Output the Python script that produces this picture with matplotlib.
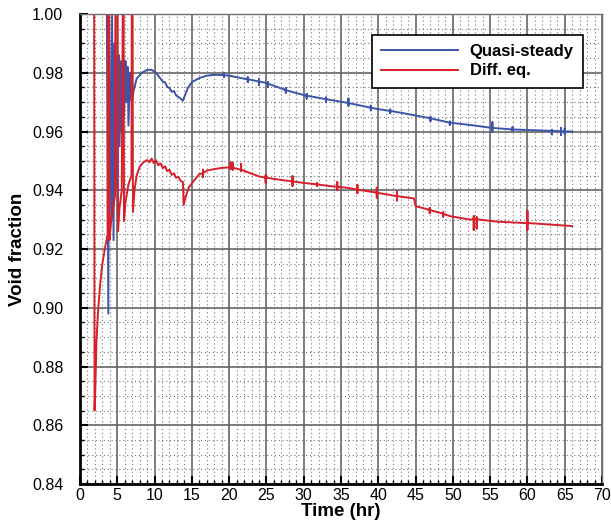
import matplotlib
matplotlib.use("Agg")
import matplotlib.pyplot as plt
from matplotlib.ticker import MultipleLocator

plt.rcParams['font.family'] = ['Liberation Sans', 'DejaVu Sans']

# Quasi-steady (blue) base curve
blue_t = [0, 3.6, 3.8, 3.9, 4.2, 4.3, 4.5, 4.6, 4.8, 4.9,
          5.0, 5.2, 5.3, 5.5, 5.6, 5.8, 5.9, 6.1, 6.2, 6.4,
          6.5, 6.7, 6.8, 6.95, 7.2, 7.6, 8.3, 9.0, 9.6, 10.2,
          10.8, 11.1, 11.4, 11.7, 12.0, 12.3, 12.6, 12.9, 13.2, 13.5,
          13.8, 14.1, 14.5, 15.0, 16.0, 17.0, 18.0, 19.0, 20.0, 22,
          25, 28, 30, 33, 36, 40, 43, 46, 50, 53,
          55.4, 58, 62, 66]
blue_v = [1.0, 1.0, 0.898, 1.0, 0.93, 1.0, 0.923, 0.99, 0.94, 0.985,
          0.945, 0.986, 0.955, 0.984, 0.96, 0.986, 0.965, 0.984, 0.97, 0.982,
          0.962, 0.98, 0.972, 0.970, 0.974, 0.978, 0.980, 0.981, 0.981, 0.980,
          0.978, 0.977, 0.9768, 0.9752, 0.9748, 0.9735, 0.9738, 0.9722, 0.9718, 0.9712,
          0.9705, 0.9725, 0.975, 0.9768, 0.9782, 0.979, 0.9793, 0.9792, 0.979, 0.978,
          0.9765, 0.9738, 0.9724, 0.971, 0.9697, 0.9676, 0.9664, 0.965, 0.9629, 0.962,
          0.9612, 0.9607, 0.9603, 0.960]
# small glitches on the blue curve: time, level, top, bottom
blue_spk_t = [19.3, 22.5, 24.0, 25.2, 27.6, 30.4, 33.0, 36.0, 39.0, 41.6,
              47.0, 49.6, 55.3, 58.0, 63.3, 64.5, 65.0]
blue_spk_base = [0.9792, 0.9778, 0.9770, 0.9763, 0.9741, 0.9722, 0.9710, 0.9697, 0.9681, 0.9670,
                 0.9645, 0.9630, 0.9612, 0.9607, 0.9602, 0.9601, 0.9600]
blue_spk_hi = [0.9800, 0.9785, 0.9778, 0.9768, 0.9748, 0.9728, 0.9716, 0.9712, 0.9688, 0.9675,
               0.9650, 0.9634, 0.9632, 0.9615, 0.9606, 0.9612, 0.9610]
blue_spk_lo = [0.9785, 0.9768, 0.9758, 0.9752, 0.9732, 0.9712, 0.9700, 0.9688, 0.9672, 0.9662,
               0.9636, 0.9622, 0.9598, 0.9602, 0.9590, 0.9588, 0.9592]

# Diff. eq. (red) base curve
red_t = [0, 1.9, 1.95, 2.05, 2.2, 2.4, 2.7, 3.0, 3.4, 3.7,
         3.75, 3.9, 3.95, 4.2, 4.5, 4.7, 4.75, 5.05, 5.1, 5.3,
         5.6, 5.75, 5.85, 5.9, 6.1, 6.5, 6.9, 6.95, 7.05, 7.1,
         7.3, 7.6, 8.0, 8.5, 9.0, 9.3, 9.6, 9.9, 10.2, 10.5,
         10.8, 11.1, 11.4, 11.7, 12.0, 12.3, 12.6, 12.9, 13.2, 13.5,
         13.8, 13.9, 14.2, 14.6, 15.2, 16.0, 17.0, 18.0, 19.0, 20.0,
         21.5, 24, 27, 30, 33.5, 36, 40.2, 44.3, 44.8, 45.0,
         46.9, 49.6, 52.3, 56, 60.3, 66]
red_v = [1.0, 1.0, 0.865, 0.872, 0.888, 0.898, 0.908, 0.915, 0.921, 0.925,
         1.01, 1.01, 0.923, 0.93, 0.935, 0.938, 1.01, 1.01, 0.926, 0.934,
         0.94, 1.01, 1.01, 0.9295, 0.936, 0.942, 0.945, 1.01, 1.01, 0.9326,
         0.94, 0.945, 0.948, 0.9495, 0.9503, 0.9495, 0.9508, 0.9492, 0.9502, 0.9485,
         0.9492, 0.9475, 0.9482, 0.9465, 0.9470, 0.9452, 0.9458, 0.9442, 0.9446, 0.9432,
         0.9428, 0.935, 0.938, 0.941, 0.943, 0.9455, 0.9467, 0.9472, 0.9476, 0.9478,
         0.947, 0.9447, 0.9435, 0.9425, 0.9414, 0.9408, 0.939, 0.9374, 0.9372, 0.9346,
         0.9333, 0.9312, 0.930, 0.9293, 0.9288, 0.9278]
red_spk_t = [16.5, 20.2, 20.5, 21.6, 24.9, 28.5, 31.8, 34.5, 37.2, 39.8,
             42.5, 46.9, 48.7, 52.8, 53.2, 60.0]
red_spk_base = [0.9458, 0.9478, 0.9477, 0.9470, 0.9443, 0.9430, 0.9420, 0.9412, 0.9402, 0.9392,
                0.9380, 0.9333, 0.9320, 0.9302, 0.9301, 0.9288]
red_spk_hi = [0.9470, 0.9495, 0.9492, 0.9490, 0.9452, 0.9448, 0.9424, 0.9428, 0.9418, 0.9408,
              0.9395, 0.9340, 0.9325, 0.9312, 0.9308, 0.9330]
red_spk_lo = [0.9445, 0.9472, 0.9470, 0.9466, 0.9425, 0.9415, 0.9414, 0.9400, 0.9390, 0.9375,
              0.9365, 0.9322, 0.9310, 0.9265, 0.9270, 0.9265]


def merge(t, v, st, sb, shi, slo):
    pts = [(a, 0, b) for a, b in zip(t, v)]
    for a, b, h, l in zip(st, sb, shi, slo):
        pts += [(a, 1, b), (a, 2, h), (a, 3, l), (a, 4, b)]
    pts.sort(key=lambda p: (p[0], p[1]))
    return [p[0] for p in pts], [p[2] for p in pts]


bx, by = merge(blue_t, blue_v, blue_spk_t, blue_spk_base, blue_spk_hi, blue_spk_lo)
rx, ry = merge(red_t, red_v, red_spk_t, red_spk_base, red_spk_hi, red_spk_lo)

fig = plt.figure(figsize=(6.11, 5.27), dpi=100)
ax = fig.add_axes([80 / 611, 43 / 527, 522 / 611, 470 / 527])

ax.plot(bx, by, color="#3d55a8", lw=1.4, label="Quasi-steady")
ax.plot(rx, ry, color="#d7202b", lw=1.4, label="Diff. eq.")

ax.set_xlim(0, 70)
ax.set_ylim(0.84, 1.00)
ax.xaxis.set_major_locator(MultipleLocator(5))
ax.xaxis.set_minor_locator(MultipleLocator(1))
ax.yaxis.set_major_locator(MultipleLocator(0.02))
ax.yaxis.set_minor_locator(MultipleLocator(0.005))
ax.yaxis.set_major_formatter(plt.FormatStrFormatter("%.2f"))

ax.grid(which="major", color="#666666", lw=1.2, ls="-")
ax.grid(which="minor", color="#777777", lw=0.8, ls=(0, (1, 2.5)))
ax.set_axisbelow(True)

ax.tick_params(which="both", direction="in", top=False, right=False, labelsize=11.5)
ax.tick_params(axis="y", pad=12)
ax.tick_params(axis="x", pad=3)
ax.tick_params(which="major", length=6, width=1.5)
ax.tick_params(which="minor", length=3, width=1)
for s in ["left", "bottom"]:
    ax.spines[s].set_linewidth(2)
for s in ["top", "right"]:
    ax.spines[s].set_linewidth(1)
    ax.spines[s].set_color("#6e6e6e")

ax.set_xlabel("Time (hr)", fontsize=13.5, fontweight="bold", labelpad=0)
ax.set_ylabel("Void fraction", fontsize=13.5, fontweight="bold", labelpad=4)

leg = ax.legend(loc="upper right", bbox_to_anchor=(0.9636, 0.955), borderaxespad=0,
                prop={"weight": "bold", "size": 12}, handlelength=4.6, handletextpad=0.7,
                labelspacing=0.25, fancybox=False, framealpha=1, edgecolor="black",
                borderpad=0.55)
leg.get_frame().set_linewidth(1.2)

fig.savefig("out.png", dpi=100)
